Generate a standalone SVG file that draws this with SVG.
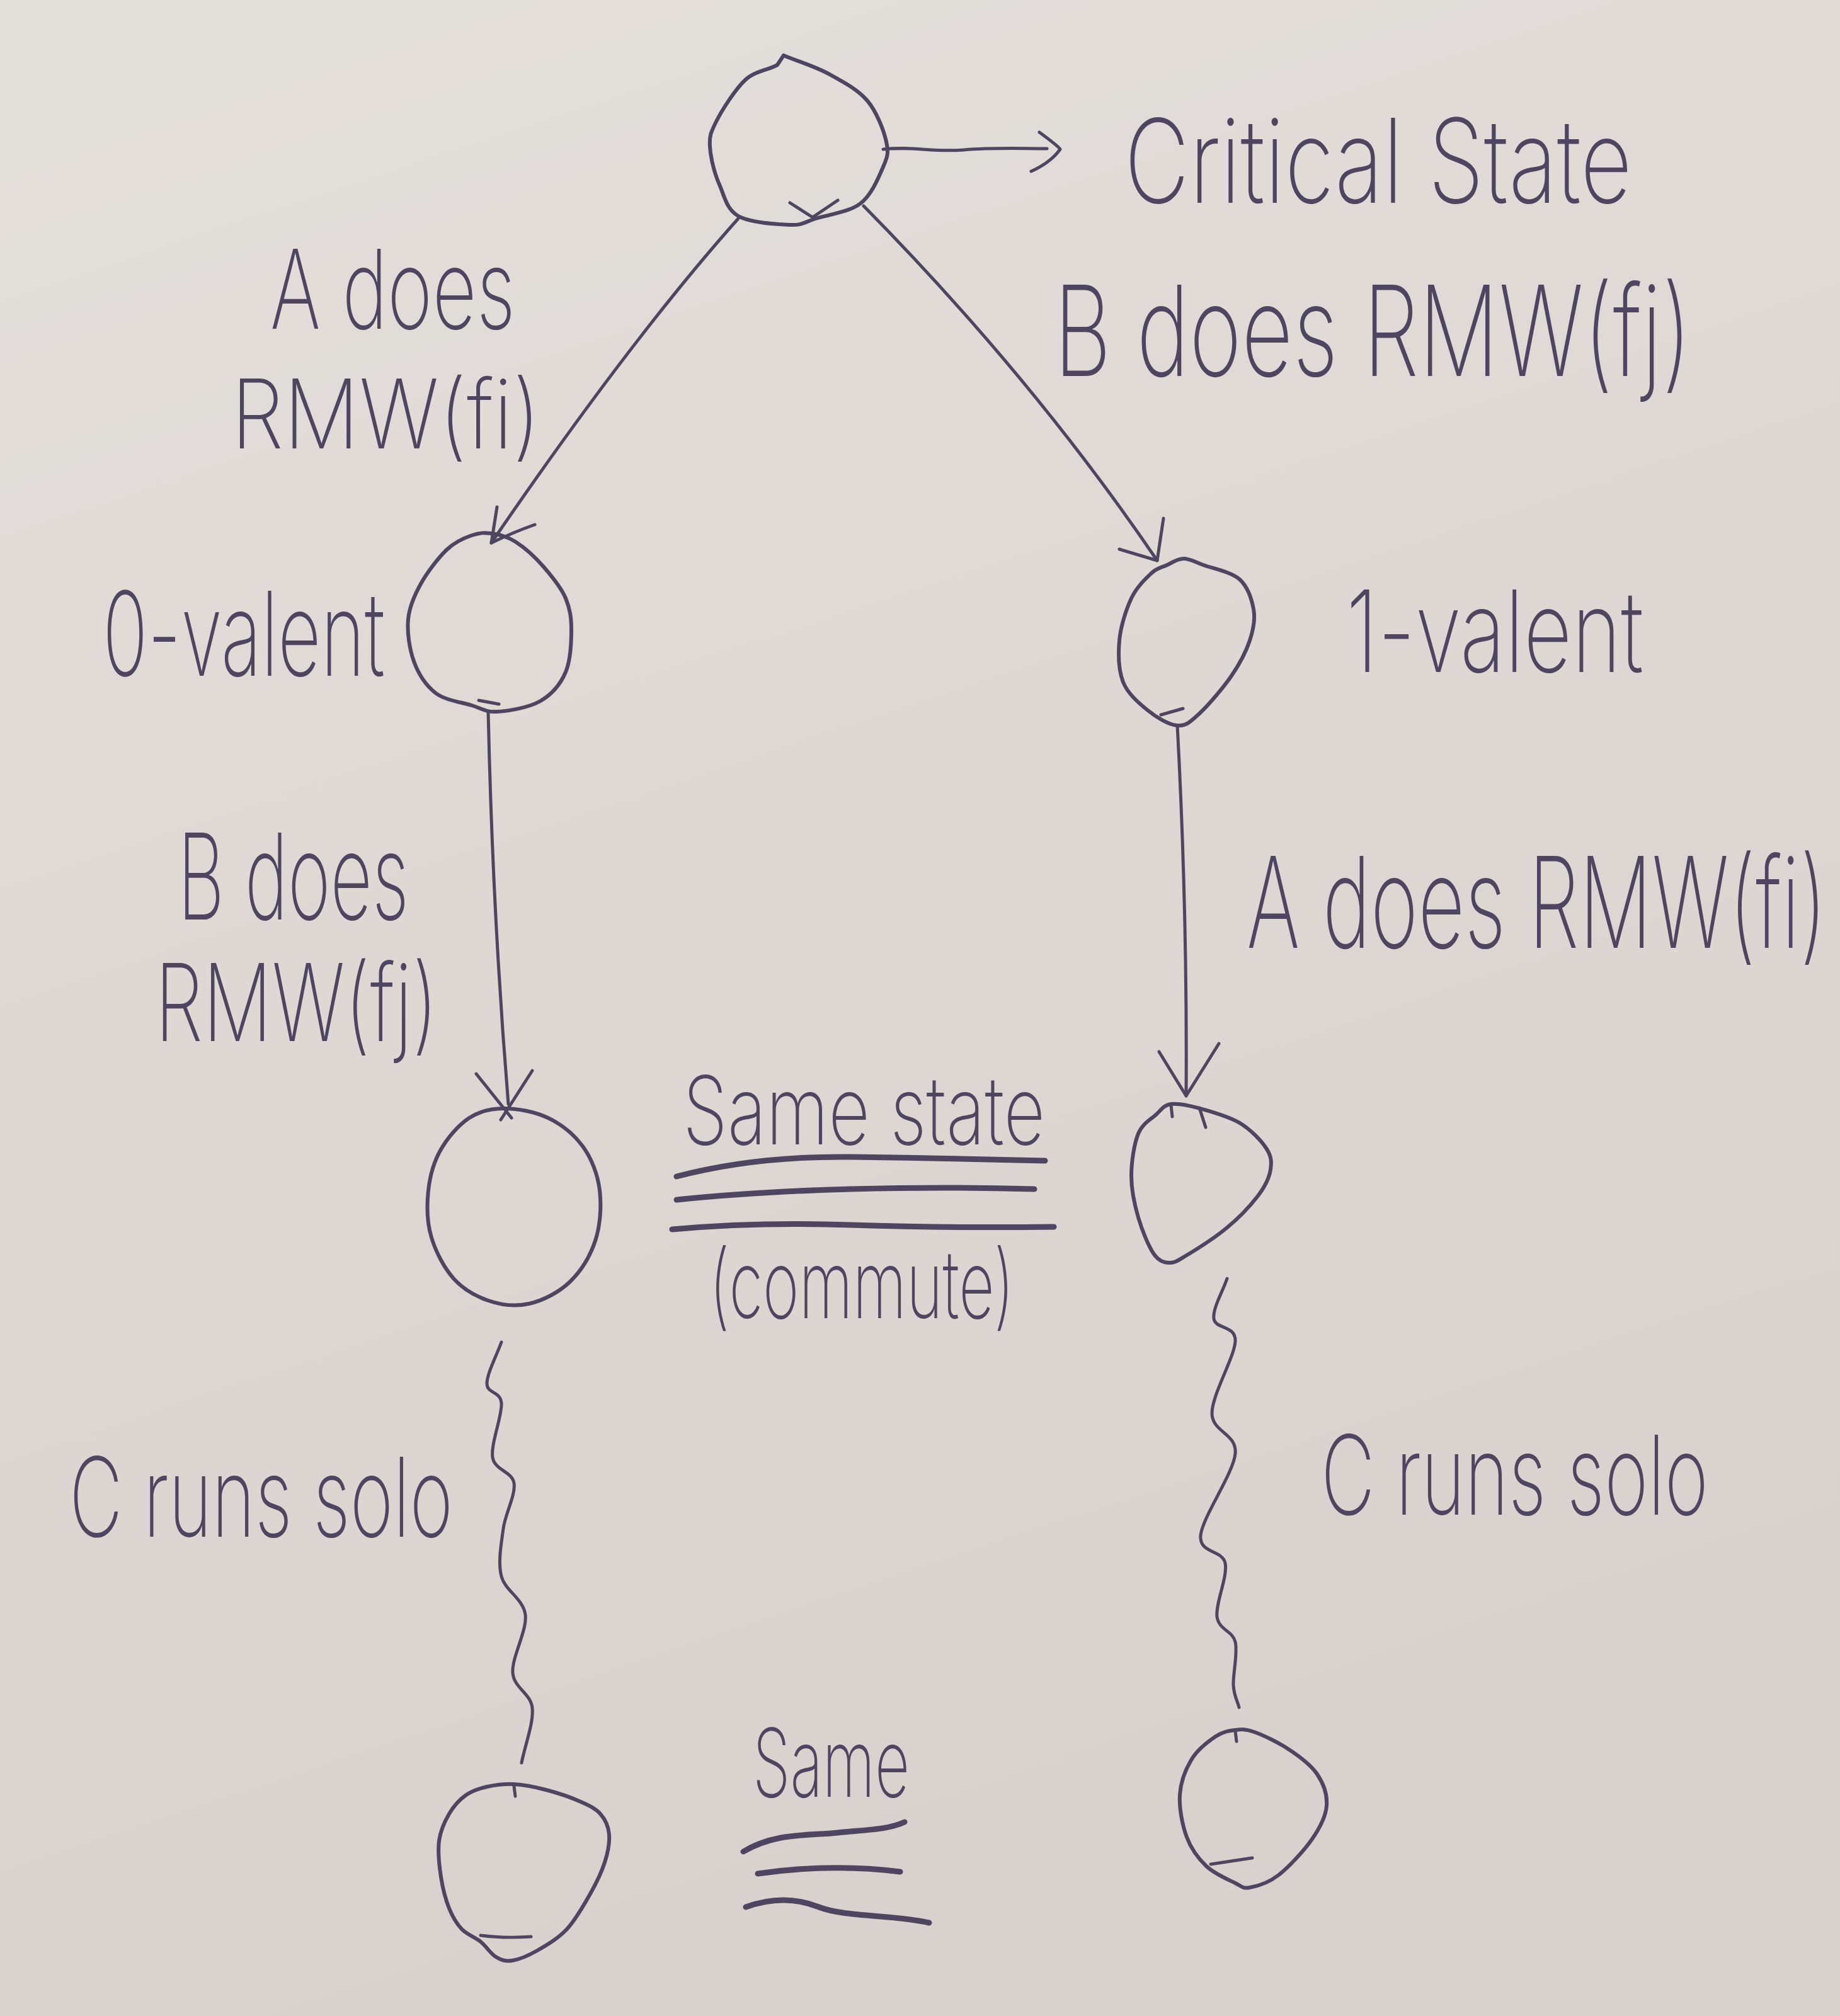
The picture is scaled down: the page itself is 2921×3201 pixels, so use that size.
<svg xmlns="http://www.w3.org/2000/svg" width="2921" height="3201" viewBox="0 0 2921 3201">
<style>
.ink{fill:none;stroke:#4e4660;stroke-width:6;stroke-linecap:round;stroke-linejoin:round}
.thin{fill:none;stroke:#4e4660;stroke-width:5;stroke-linecap:round;stroke-linejoin:round}
.bold{fill:none;stroke:#4e4660;stroke-width:9;stroke-linecap:round;stroke-linejoin:round}
.lbl{font-family:Inter,"Liberation Sans",sans-serif;font-weight:200;fill:#4e4660}
</style>
<defs>
<linearGradient id="paper" x1="0" y1="0" x2="0.3" y2="1">
<stop offset="0" stop-color="#e3dfdb"/>
<stop offset="1" stop-color="#d9d1ce"/>
</linearGradient>
</defs>
<rect x="0" y="0" width="2921" height="3201" fill="url(#paper)"/>

<g id="connectors">
<path class="thin" d="M1402,237 C1450,232 1480,242 1530,238 S1620,236 1662,236"/>
<path class="thin" d="M1650,210 Q1680,232 1683,237 Q1668,258 1637,272"/>
<path class="thin" d="M1172,347 Q1000,540 780,862"/>
<path class="thin" d="M789,805 L780,862 Q815,845 849,833"/>
<path class="thin" d="M1371,327 Q1640,600 1837,890"/>
<path class="thin" d="M1847,823 L1837,890 L1777,872"/>
<path class="thin" d="M775,1130 Q782,1450 807,1753"/>
<path class="thin" d="M756,1705 L812,1775 M845,1700 L795,1778"/>
<path class="thin" d="M1869,1152 Q1885,1450 1883,1740"/>
<path class="thin" d="M1840,1670 L1883,1740 L1935,1657"/>
<path class="thin" d="M796,2131 C788,2153 773,2181 773,2197 S794.5,2208.5 796,2228 S778.7,2293 782,2314 S813.2,2336 816,2355 S802.3,2402.3 799,2427 S790.2,2480.2 796,2503 S831,2538.5 834,2564 S812.2,2631.3 814,2656 S842.7,2688.2 845,2712 S833.7,2770 828,2799"/>
<path class="thin" d="M1948,2030 C1941,2051 1924.8,2077.5 1927,2094 S1961.5,2104 1961,2129 S1924,2214 1924,2244 S1964,2276 1961,2308 S1908.7,2409 1906,2438 S1940.7,2460.5 1945,2482 S1929.3,2546 1932,2567 S1956.7,2589 1961,2607 S1957,2658.7 1958,2676 S1964,2699 1967,2711"/>
</g>

<g id="equiv-same-state">
<path class="bold" d="M1074,1868 Q1200,1835 1351,1837 T1659,1843"/>
<path class="bold" d="M1074,1905 Q1200,1892 1351,1888 T1642,1888"/>
<path class="bold" d="M1067,1952 Q1200,1940 1351,1945 T1673,1948"/>
</g>
<g id="equiv-same">
<path class="bold" d="M1180,2940 C1230,2910 1280,2915 1330,2910 S1410,2905 1436,2893"/>
<path class="bold" d="M1203,2975 Q1320,2958 1429,2972"/>
<path class="bold" d="M1184,3028 C1220,3015 1260,3012 1300,3028 S1420,3040 1475,3053"/>
</g>

<g id="node-critical">
<path class="ink" d="M1244,88 C1268,98 1293,105 1315,117 S1362,142 1377,160 S1403,207 1407,225 S1409,249 1402,265 S1384,309 1366,323 S1314,341 1295,347 S1274,358 1254,357 S1191,354 1172,343 S1150,311 1142,293 S1128,250 1127,233 S1128,211 1137,193 S1167,142 1183,127 S1224,110 1234,103 L1244,88"/>
<path class="thin" d="M1254,322 L1290,345 L1330,318"/>
</g>

<g id="node-0valent">
<path class="ink" d="M780,847 C791.5,848.7 804,851 818,860 S850,885 863,900 S891,933 898,950 S907,980.5 907,1000 S906,1048 898,1067 S876,1102.5 858,1113 S807,1129 789,1130 S765,1125 749,1120 S706,1112 691,1100 S664,1069.5 657,1050 S646,1003.5 648,983 S658,945 668,927 S695.5,886 709,873 S737,854 749,850 S768.5,845.3 780,847 Z"/>
<path class="thin" d="M760,1112 L792,1118"/>
</g>

<g id="node-1valent">
<path class="ink" d="M1853,897 C1861.5,893 1869.5,887 1879,887 S1895,891.5 1910,897 S1955,908 1968,920 S1987,951 1990,967 S1990,999 1984,1017 S1968,1054 1955,1073 S1918,1120 1904,1133 S1883,1153 1869,1152 S1835,1138.5 1821,1127 S1790,1101 1783,1083 S1775,1039 1777,1017 S1787.5,968 1796,950 S1818.5,919 1828,910 S1844.5,901 1853,897 Z"/>
<path class="thin" d="M1843,1135 L1878,1125"/>
</g>

<g id="node-left-mid">
<path class="ink" d="M800,1760 C821,1760 849,1765 870,1775 S911,1801 925,1820 S949,1865 952,1890 S953,1946 945,1970 S922.5,2018 905,2035 S862,2065 840,2070 S795,2072 775,2065 S735,2047 720,2030 S692,1988 685,1965 S677.5,1913 680,1890 S689,1844 700,1825 S728,1786 745,1775 S779,1760 800,1760 Z"/>
</g>

<g id="node-right-mid">
<path class="ink" d="M1859,1753 C1870.7,1751.3 1887,1755 1905,1760 S1950.5,1772.5 1968,1783 S2002,1811 2010,1823 S2019,1844 2017,1857 S2008,1884.5 1996,1900 S1966,1934.5 1947,1950 S1899,1984 1884,1993 S1865,2005.5 1856,2005 S1839,2002 1831,1990 S1813,1953.5 1807,1933 S1796,1889 1796,1867 S1800.5,1816 1807,1800 S1826.3,1778 1835,1770 S1847.3,1754.7 1859,1753 Z"/>
<path class="thin" d="M1859,1755 L1861,1773 M1905,1762 L1914,1790"/>
</g>

<g id="node-left-bottom">
<path class="ink" d="M817,2833 C832.7,2833.8 850,2837.5 867,2842 S906,2853.7 920,2860 S945,2871 953,2880 S966,2900 967,2913 S965,2941.3 960,2957 S947,2989.3 937,3007 S914,3048 900,3063 S867.5,3088.7 853,3097 S824,3111.3 813,3113 S795.3,3112 787,3107 S772,3090.3 763,3083 S741.3,3071.8 733,3063 S718.5,3043.8 713,3030 S702.7,2997.8 700,2980 S694.8,2939.7 697,2923 S706,2892 713,2880 S730,2857 740,2850 S760.2,2839.8 773,2837 S801.3,2832.2 817,2833 Z"/>
<path class="thin" d="M763,3073 Q800,3078 843,3075 M816,2836 L818,2852"/>
</g>

<g id="node-right-bottom">
<path class="ink" d="M1961,2747 C1971,2745.8 1977,2745 1991,2750 S2028.3,2766 2045,2777 S2081,2802 2091,2817 S2107.3,2850 2106,2867 S2095.7,2901.7 2083,2920 S2046.5,2964.2 2030,2977 S1995.5,2995 1984,2997 S1972.5,2995.7 1961,2990 S1927.8,2975.2 1915,2963 S1891,2935.8 1884,2917 S1871.7,2870.7 1873,2850 S1882.5,2808.5 1892,2793 S1918.5,2764.7 1930,2757 S1951,2748.2 1961,2747 Z"/>
<path class="thin" d="M1922,2960 L1988,2950 M1961,2749 L1963,2765"/>
</g>

<g id="labels">
<text class="lbl" x="1785" y="322" font-size="185" textLength="806" lengthAdjust="spacingAndGlyphs">Critical State</text>
<text class="lbl" x="429" y="522" font-size="175" textLength="389" lengthAdjust="spacingAndGlyphs">A does</text>
<text class="lbl" x="367" y="712" font-size="152" textLength="491" lengthAdjust="spacingAndGlyphs">RMW(fi)</text>
<text class="lbl" transform="translate(1673,597) scale(0.7,1)" x="0" y="0" font-size="200" textLength="1446" lengthAdjust="spacingAndGlyphs">B does RMW(fj)</text>
<text class="lbl" x="163" y="1073" font-size="185" textLength="448" lengthAdjust="spacingAndGlyphs">0-valent</text>
<text class="lbl" x="2137" y="1067" font-size="180" textLength="472" lengthAdjust="spacingAndGlyphs">1-valent</text>
<text class="lbl" x="282" y="1460" font-size="190" textLength="367" lengthAdjust="spacingAndGlyphs">B does</text>
<text class="lbl" x="246" y="1653" font-size="170" textLength="449" lengthAdjust="spacingAndGlyphs">RMW(fj)</text>
<text class="lbl" transform="translate(1979,1505) scale(0.64,1)" x="0" y="0" font-size="200" textLength="1439" lengthAdjust="spacingAndGlyphs">A does RMW(fi)</text>
<text class="lbl" x="1084" y="1817" font-size="150" textLength="575" lengthAdjust="spacingAndGlyphs">Same state</text>
<text class="lbl" x="1126" y="2093" font-size="150" textLength="484" lengthAdjust="spacingAndGlyphs">(commute)</text>
<text class="lbl" x="110" y="2440" font-size="175" textLength="609" lengthAdjust="spacingAndGlyphs">C runs solo</text>
<text class="lbl" transform="translate(2097,2405) scale(0.67,1)" x="0" y="0" font-size="175" textLength="918" lengthAdjust="spacingAndGlyphs">C runs solo</text>
<text class="lbl" x="1195" y="2853" font-size="150" textLength="249" lengthAdjust="spacingAndGlyphs">Same</text>
</g>
</svg>
